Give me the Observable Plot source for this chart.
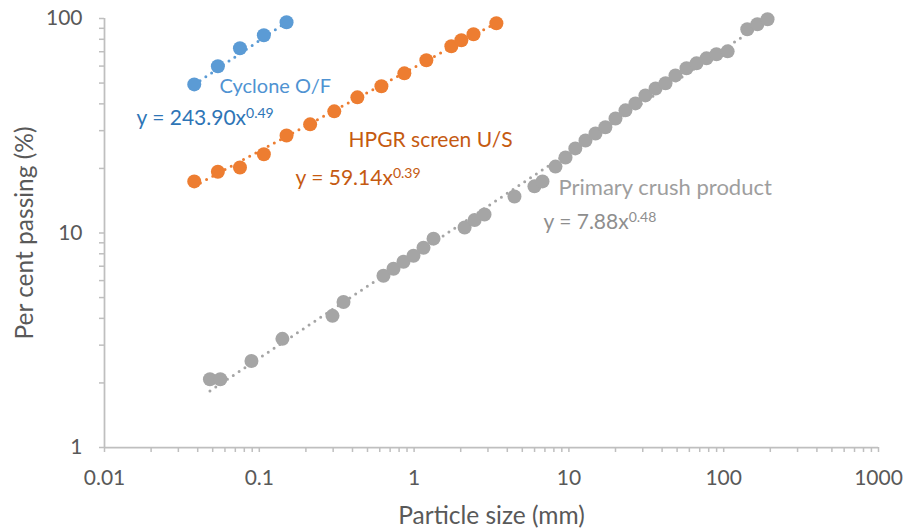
<!DOCTYPE html>
<html>
<head>
<meta charset="utf-8">
<script src="https://cdn.jsdelivr.net/npm/d3@7"></script>
<script src="https://cdn.jsdelivr.net/npm/@observablehq/plot@0.6"></script>
<style>
  html, body { margin: 0; padding: 0; background: #ffffff; }
  #chart { width: 904px; height: 529px; }
</style>
</head>
<body>
<div id="chart"></div>
<script>
// ---- Data ----
const cycloneSize = [0.038, 0.054, 0.075, 0.107, 0.150];
const cyclonePassing = [49.3, 59.9, 72.7, 83.6, 96.1];

const hpgrSize = [0.038, 0.054, 0.075, 0.107, 0.150, 0.213, 0.305, 0.430, 0.615, 0.865, 1.20, 1.74, 2.02, 2.42, 3.40];
const hpgrPassing = [17.4, 19.3, 20.2, 23.3, 28.5, 32.1, 36.9, 42.9, 48.3, 55.5, 63.9, 74.2, 79.2, 84.5, 95.1];

const primarySize = [0.048, 0.056, 0.089, 0.141, 0.297, 0.350, 0.634, 0.736, 0.854, 0.991,
  1.15, 1.335, 2.12, 2.46, 2.85, 4.45, 5.99, 6.75, 8.19, 9.51,
  11.0, 12.8, 14.85, 17.2, 20.0, 23.2, 26.9, 31.2, 36.3, 42.1,
  48.8, 57.5, 66.7, 77.4, 89.8, 106, 142, 165, 192];
const primaryPassing = [2.08, 2.08, 2.53, 3.21, 4.11, 4.77, 6.32, 6.81, 7.34, 7.83,
  8.54, 9.41, 10.6, 11.5, 12.2, 14.8, 16.5, 17.4, 20.4, 22.5,
  24.8, 27.0, 29.1, 31.1, 34.2, 37.3, 40.2, 43.8, 47.2, 49.9,
  54.3, 58.6, 61.8, 65.2, 68.1, 70.3, 89.1, 94.0, 99.2];

// Power-law trendline coefficients shown on the chart (y = a x^b)
const seriesNames = ["Cyclone O/F", "HPGR screen U/S", "Primary crush product"];
const trendA = [243.90, 59.14, 7.88];
const trendB = [0.49, 0.39, 0.48];

const xTickLabels = [0.01, 0.1, 1, 10, 100, 1000];
const yTickLabels = [1, 10, 100];

// ---- Build tables ----
const colors = ["#5B9BD5", "#ED7D31", "#A5A5A5"];
const sizes = [cycloneSize, hpgrSize, primarySize];
const passings = [cyclonePassing, hpgrPassing, primaryPassing];

const points = [];
const trends = [];
seriesNames.forEach((name, i) => {
  sizes[i].forEach((s, j) => points.push({series: name, x: s, y: passings[i][j]}));
  const xmin = d3.min(sizes[i]), xmax = d3.max(sizes[i]);
  for (const xv of [xmin, xmax]) trends.push({series: name, x: xv, y: trendA[i] * Math.pow(xv, trendB[i])});
});

const fmt = v => String(+v.toFixed(2));
// annotation anchors (data coordinates)
const annotations = [
  {x: 0.0553, y: 48.3, text: "Cyclone O/F", color: "#4F93D2", size: 20},
  {x: 0.0161, y: 34.2, text: `y = ${trendA[0].toFixed(2)}x^${trendB[0].toFixed(2)}`, color: "#2E75B6", size: 21},
  {x: 0.377, y: 27.0, text: "HPGR screen U/S", color: "#C55A11", size: 21},
  {x: 0.1713, y: 17.9, text: `y = ${trendA[1].toFixed(2)}x^${trendB[1].toFixed(2)}`, color: "#C55A11", size: 21},
  {x: 8.57, y: 16.3, text: "Primary crush product", color: "#9E9E9E", size: 22},
  {x: 6.85, y: 11.17, text: `y = ${trendA[2].toFixed(2)}x^${trendB[2].toFixed(2)}`, color: "#8E8E8E", size: 21}
];

// minor/major log ticks
const xTicksAll = [];
for (let e = -2; e <= 2; e++) for (let m = 1; m <= 9; m++) xTicksAll.push(+(m * Math.pow(10, e)).toPrecision(3));
xTicksAll.push(1000);
const yTicksAll = [];
for (let e = 0; e <= 1; e++) for (let m = 1; m <= 9; m++) yTicksAll.push(m * Math.pow(10, e));
yTicksAll.push(100);

const axisGray = "#BFBFBF";
const textGray = "#595959";

const chart = Plot.plot({
  width: 904,
  height: 529,
  marginLeft: 104,
  marginRight: 26,
  marginTop: 18,
  marginBottom: 82,
  style: {fontFamily: "Lato, 'Open Sans', sans-serif", fontSize: "21px", color: textGray, background: "#ffffff"},
  x: {type: "log", domain: [0.01, 1000], axis: null},
  y: {type: "log", domain: [1, 100], axis: null},
  color: {domain: seriesNames, range: colors},
  marks: [
    // axis lines
    Plot.ruleY([1], {stroke: axisGray, strokeWidth: 1.75}),
    Plot.ruleX([0.01], {stroke: axisGray, strokeWidth: 1.75}),
    // tick marks
    Plot.axisX(xTicksAll, {tickSize: 5, stroke: axisGray, strokeWidth: 1.5, tickFormat: () => "", label: null}),
    Plot.axisY(yTicksAll, {tickSize: 5, stroke: axisGray, strokeWidth: 1.5, tickFormat: () => "", label: null}),
    // tick labels
    Plot.axisX(xTickLabels, {tickSize: 0, tickPadding: 23, tickFormat: fmt, fill: textGray, fontSize: 21, label: null}),
    Plot.axisY(yTickLabels, {tickSize: 0, tickPadding: 22, tickFormat: fmt, fill: textGray, fontSize: 21, label: null}),
    // axis titles
    Plot.text(["Particle size (mm)"], {frameAnchor: "bottom", textAnchor: "middle", lineAnchor: "middle", dy: 69, fill: textGray, fontSize: 24.5}),
    Plot.text(["Per cent passing (%)"], {frameAnchor: "left", textAnchor: "middle", lineAnchor: "middle", dx: -79, rotate: -90, fill: textGray, fontSize: 24.5}),
    // trendlines (dotted)
    Plot.line(trends, {x: "x", y: "y", z: "series", stroke: "series", strokeWidth: 3, strokeDasharray: "0,7", strokeLinecap: "round"}),
    // data points
    Plot.dot(points, {x: "x", y: "y", fill: "series", r: 7}),
    // annotations
    Plot.text(annotations, {x: "x", y: "y", text: "text", fill: "color", textAnchor: "start", lineAnchor: "middle", fontSize: "size"})
  ]
});

// superscripts for the trendline equations
d3.select(chart).selectAll("text").each(function () {
  const t = this.textContent;
  if (t.includes("^")) {
    const [base, exp] = t.split("^");
    const sel = d3.select(this);
    sel.text(base);
    sel.append("tspan").attr("dy", "-0.5em").attr("font-size", "14px").text(exp);
  }
});

document.getElementById("chart").appendChild(chart);
</script>
</body>
</html>
